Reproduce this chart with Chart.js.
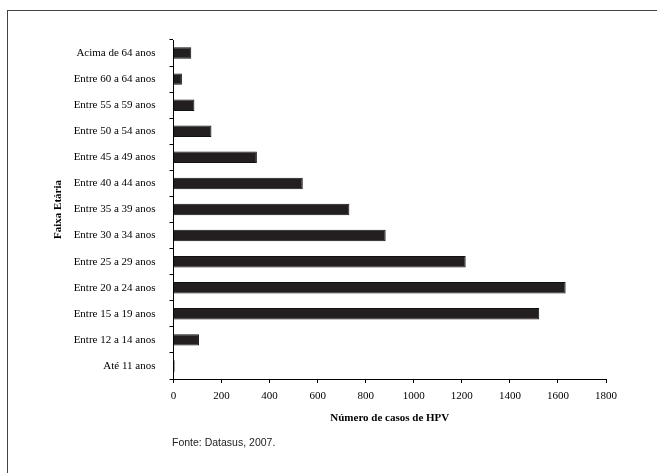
<!DOCTYPE html>
<html>
<head>
<meta charset="utf-8">
<script src="https://cdn.jsdelivr.net/npm/chart.js@4"></script>
<style>
  html, body { margin: 0; padding: 0; background: #fff; }
  #wrap { position: relative; width: 657px; height: 473px; overflow: hidden; }
  #frame {
    position: absolute; left: 7px; top: 10px; width: 700px; height: 500px;
    border-top: 1px solid #444; border-left: 1px solid #444;
  }
  #chart { position: absolute; left: 0; top: 0; }
  #fonte {
    position: absolute; left: 172px; top: 436px;
    font: 10.5px "Liberation Sans", Arial, sans-serif; color: #222;
  }
</style>
</head>
<body>
<div id="wrap">
  <div id="frame"></div>
  <canvas id="chart" width="657" height="473"></canvas>
  <div id="fonte">Fonte: Datasus, 2007.</div>
</div>
<script>
// --- Data ---
const faixas = [
  "Até 11 anos",
  "Entre 12 a 14 anos",
  "Entre 15 a 19 anos",
  "Entre 20 a 24 anos",
  "Entre 25 a 29 anos",
  "Entre 30 a 34 anos",
  "Entre 35 a 39 anos",
  "Entre 40 a 44 anos",
  "Entre 45 a 49 anos",
  "Entre 50 a 54 anos",
  "Entre 55 a 59 anos",
  "Entre 60 a 64 anos",
  "Acima de 64 anos",
];
const casos = [5, 106, 1522, 1632, 1216, 883, 732, 538, 347, 158, 87, 35, 74];
const xMax = 1800;
const xStep = 200;

const serif = "'Liberation Serif', 'Times New Roman', serif";

new Chart(document.getElementById("chart"), {
  type: "bar",
  data: {
    labels: faixas,
    datasets: [
      {
        label: "Número de casos de HPV",
        data: casos,
        backgroundColor: "#231f20",
        borderColor: "#111",
        borderWidth: 1,
        barPercentage: 0.44,
        categoryPercentage: 1,
      },
    ],
  },
  options: {
    indexAxis: "y",
    responsive: false,
    animation: false,
    layout: { padding: { top: 40, right: 51, left: 0, bottom: 0 } },
    plugins: { legend: { display: false }, tooltip: { enabled: false } },
    scales: {
      x: {
        min: 0,
        max: xMax,
        afterFit: (s) => { s.height = 94; },
        ticks: {
          stepSize: xStep,
          color: "#000",
          padding: 7,
          font: { family: serif, size: 11 },
          callback: (v) => String(v),
        },
        grid: { drawOnChartArea: false, color: "#000", tickLength: 4 },
        border: { color: "#000", width: 1 },
        title: {
          display: true,
          text: "Número de casos de HPV",
          color: "#000",
          font: { family: serif, size: 11, weight: "bold" },
          padding: { top: 0, bottom: 48 },
        },
      },
      y: {
        reverse: true,
        afterFit: (s) => { s.width = 173.5; },
        ticks: {
          color: "#000",
          padding: 14,
          font: { family: serif, size: 11 },
        },
        grid: { drawOnChartArea: false, color: "#000", tickLength: 4, offset: true },
        border: { color: "#000", width: 1 },
        title: {
          display: true,
          text: "Faixa Etária",
          color: "#000",
          font: { family: serif, size: 11, weight: "bold" },
          padding: { top: 52, bottom: 0 },
        },
      },
    },
  },
});
</script>
</body>
</html>
